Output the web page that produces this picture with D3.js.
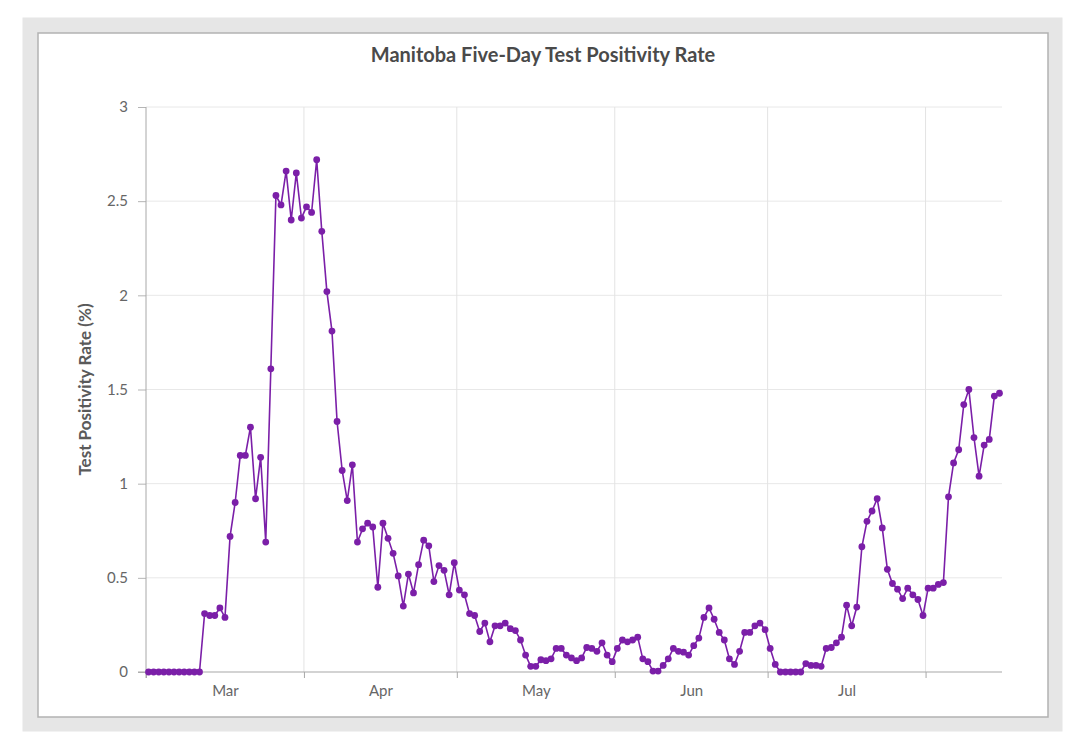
<!DOCTYPE html>
<html>
<head>
<meta charset="utf-8">
<script src="https://cdn.jsdelivr.net/npm/d3@7"></script>
<style>
  html, body { margin: 0; padding: 0; background: #ffffff; }
  svg { display: block; }
  text { font-family: Lato, "Open Sans", sans-serif; }
</style>
</head>
<body>
<svg id="chart" width="1080" height="747"></svg>
<script>
// ---- data ----
const titleText = "Manitoba Five-Day Test Positivity Rate";
const yAxisTitle = "Test Positivity Rate (%)";
const startDate = "2020-03-01";
const endDate = "2020-08-16";
const positivity = [
  0, 0, 0, 0, 0, 0, 0, 0, 0, 0, 0,
  0.31, 0.30, 0.30, 0.34, 0.29, 0.72, 0.90, 1.15, 1.15, 1.30,
  0.92, 1.14, 0.69, 1.61, 2.53, 2.48, 2.66, 2.40, 2.65, 2.41,
  2.47, 2.44, 2.72, 2.34, 2.02, 1.81, 1.33, 1.07, 0.91, 1.10,
  0.69, 0.76, 0.79, 0.77, 0.45, 0.79, 0.71, 0.63, 0.51, 0.35,
  0.52, 0.42, 0.57, 0.70, 0.67, 0.48, 0.565, 0.54, 0.41, 0.58,
  0.435, 0.41, 0.31, 0.30, 0.215, 0.26, 0.16, 0.245, 0.245, 0.26,
  0.23, 0.22, 0.17, 0.09, 0.03, 0.03, 0.065, 0.06, 0.07, 0.125,
  0.125, 0.09, 0.075, 0.06, 0.075, 0.13, 0.125, 0.11, 0.155, 0.09,
  0.055, 0.125, 0.17, 0.16, 0.17, 0.185, 0.07, 0.055, 0.005, 0.005,
  0.035, 0.07, 0.125, 0.11, 0.105, 0.09, 0.14, 0.18, 0.29, 0.34,
  0.28, 0.21, 0.17, 0.07, 0.04, 0.11, 0.21, 0.21, 0.245, 0.26,
  0.225, 0.125, 0.04, 0, 0, 0, 0, 0, 0.045, 0.035,
  0.035, 0.03, 0.125, 0.13, 0.155, 0.185, 0.355, 0.245, 0.345, 0.665,
  0.80, 0.855, 0.92, 0.765, 0.545, 0.47, 0.44, 0.39, 0.445, 0.41,
  0.385, 0.30, 0.445, 0.445, 0.465, 0.475, 0.93, 1.11, 1.18, 1.42,
  1.50, 1.245, 1.04, 1.205, 1.235, 1.465, 1.48
];
const yTicks = [0, 0.5, 1, 1.5, 2, 2.5, 3];
const monthStarts = ["2020-03-01", "2020-04-01", "2020-05-01", "2020-06-01", "2020-07-01", "2020-08-01"];
const monthLabels = ["Mar", "Apr", "May", "Jun", "Jul"];

// ---- build ----
const parse = d3.utcParse("%Y-%m-%d");
const t0 = parse(startDate);
// each daily value sits in the middle of its day cell
const data = positivity.map((v, i) => ({ date: d3.utcHour.offset(d3.utcDay.offset(t0, i), 12), value: v }));

const svg = d3.select("#chart");

// frame
svg.append("rect").attr("x", 22.5).attr("y", 17.5).attr("width", 1040).attr("height", 714)
  .attr("fill", "#e6e6e6");
svg.append("rect").attr("x", 38).attr("y", 33).attr("width", 1010).attr("height", 684)
  .attr("fill", "#ffffff").attr("stroke", "#b2b2b2").attr("stroke-width", 1.5);

const pLeft = 146, pRight = 1002, pTop = 107, pBottom = 672;
const x = d3.scaleUtc().domain([parse(startDate), parse(endDate)]).range([pLeft, pRight]);
const y = d3.scaleLinear().domain([0, 3]).range([pBottom, pTop]);

// title
svg.append("text").attr("x", 543).attr("y", 62).attr("text-anchor", "middle")
  .attr("font-size", 20).attr("font-weight", 700).attr("fill", "#4a4a4a")
  .text(titleText);

// y axis ticks/labels
const yAxis = d3.axisLeft(y).tickValues(yTicks).tickSize(8).tickPadding(10)
  .tickFormat(d3.format("~g"));
const gy = svg.append("g").attr("transform", `translate(${pLeft},0)`).call(yAxis);
gy.select(".domain").remove();
gy.selectAll(".tick line").attr("stroke", "#b5b5b5");
gy.selectAll(".tick text").attr("font-size", 15).attr("fill", "#666")
  .style("font-family", "Lato, 'Open Sans', sans-serif");

// horizontal gridlines
svg.append("g").selectAll("line").data(yTicks).join("line")
  .attr("x1", pLeft).attr("x2", pRight)
  .attr("y1", d => y(d)).attr("y2", d => y(d))
  .attr("stroke", d => d === 0 ? "none" : "#e8e8e8").attr("stroke-width", 1);

// vertical gridlines at month starts
const monthDates = monthStarts.map(parse);
svg.append("g").selectAll("line").data(monthDates.slice(1)).join("line")
  .attr("x1", d => x(d)).attr("x2", d => x(d))
  .attr("y1", pTop).attr("y2", pBottom)
  .attr("stroke", "#e3e3e3").attr("stroke-width", 1);

// y axis line
svg.append("line").attr("x1", pLeft).attr("x2", pLeft).attr("y1", pTop).attr("y2", pBottom + 6)
  .attr("stroke", "#a8a8a8").attr("stroke-width", 1);

// x axis: ticks at month starts
const xAxisTicks = d3.axisBottom(x).tickValues(monthDates).tickSize(6).tickFormat("");
const gx = svg.append("g").attr("transform", `translate(0,${pBottom})`).call(xAxisTicks);
gx.select(".domain").remove();
gx.selectAll(".tick line").attr("stroke", "#a8a8a8");
svg.append("line").attr("x1", 138).attr("x2", pRight).attr("y1", pBottom).attr("y2", pBottom)
  .attr("stroke", "#a8a8a8").attr("stroke-width", 1.2);

// x labels centered in month cells
const labelDates = monthLabels.map((m, i) => new Date((monthDates[i].getTime() + monthDates[i + 1].getTime()) / 2));
const xAxisLabels = d3.axisBottom(x).tickValues(labelDates).tickSize(0).tickPadding(13)
  .tickFormat((d, i) => monthLabels[i]);
const gxl = svg.append("g").attr("transform", `translate(0,${pBottom})`).call(xAxisLabels);
gxl.select(".domain").remove();
gxl.selectAll(".tick text").attr("font-size", 15).attr("fill", "#666")
  .style("font-family", "Lato, 'Open Sans', sans-serif");

// y axis title
svg.append("text")
  .attr("transform", `translate(91,${(pTop + pBottom) / 2}) rotate(-90)`)
  .attr("text-anchor", "middle").attr("font-size", 17).attr("font-weight", 700)
  .attr("fill", "#5a5a5a").text(yAxisTitle);

// line + dots
const purple = "#7b1fa8";
const line = d3.line().x(d => x(d.date)).y(d => y(d.value));
svg.append("path").datum(data).attr("d", line)
  .attr("fill", "none").attr("stroke", purple).attr("stroke-width", 1.6);
svg.append("g").selectAll("circle").data(data).join("circle")
  .attr("cx", d => x(d.date)).attr("cy", d => y(d.value)).attr("r", 3.4)
  .attr("fill", purple);
</script>
</body>
</html>
